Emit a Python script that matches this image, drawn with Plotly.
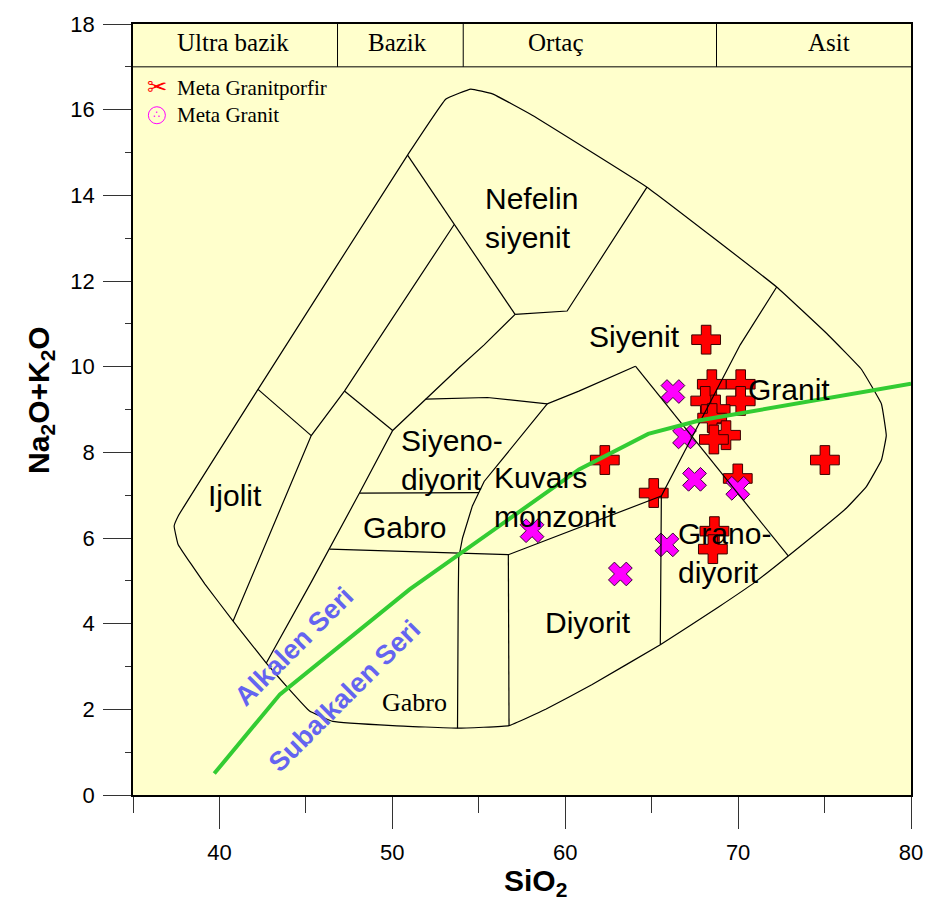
import plotly.graph_objects as go

# ---- Sample compositions (wt %) ----
granitporfir_sio2 = [68.15, 68.48, 70.15, 68.10, 70.15, 68.70, 68.50, 69.30, 68.60,
                     62.29, 65.12, 75.02, 69.98, 68.63, 68.54]
granitporfir_alk = [10.63, 9.59, 9.59, 9.20, 9.20, 9.00, 8.80, 8.40, 8.30,
                    7.82, 7.05, 7.82, 7.39, 6.16, 5.74]
granit_sio2 = [58.08, 63.19, 65.88, 66.23, 66.90, 67.48, 69.98]
granit_alk = [6.17, 5.16, 5.84, 9.42, 8.36, 7.37, 7.16]

# ---- Field boundaries of the plutonic TAS diagram ----
outer_x = [53.10, 54.54, 55.79, 58.09, 64.73, 72.23, 75.21, 77.13, 78.29, 78.57, 78.29, 77.42,
           76.27, 72.90, 70.98, 68.87, 65.50, 61.56, 58.87, 56.75, 53.77, 50.02, 46.56, 45.21,
           43.96, 42.71, 40.79, 39.15, 37.61, 37.38, 37.61, 42.23, 50.88, 53.10]
outer_y = [16.25, 16.48, 16.37, 15.87, 14.19, 11.86, 10.74, 9.94, 9.13, 8.39, 7.82, 7.20,
           6.70, 5.58, 4.97, 4.39, 3.51, 2.58, 2.00, 1.62, 1.56, 1.62, 1.72, 1.96,
           2.50, 3.08, 4.06, 4.93, 5.85, 6.28, 6.51, 9.47, 14.94, 16.25]

inner_lines = [
    # nefelin siyenit
    ([50.88, 53.58, 57.10], [14.94, 13.32, 11.22]),
    ([57.10, 60.11, 64.73], [11.22, 11.30, 14.19]),
    # foid boundaries on the alkaline side
    ([53.58, 47.23, 45.31, 41.75, 40.79], [13.32, 9.43, 8.39, 4.97, 4.06]),
    ([42.23, 45.31], [9.47, 8.39]),
    ([47.23, 50.02], [9.43, 8.51]),
    ([57.10, 55.31, 53.87, 50.02, 48.10, 46.37, 45.31, 42.71], [11.22, 10.51, 9.98, 8.51, 7.05, 5.74, 4.97, 3.08]),
    # siyenit / granit / grano-diyorit
    ([51.93, 55.50, 58.96, 60.79, 64.06], [9.24, 9.28, 9.13, 9.43, 10.01]),
    ([64.06, 72.90], [10.01, 5.58]),
    ([72.23, 70.12, 65.56, 65.50], [11.86, 10.51, 6.98, 3.51]),
    # siyeno-diyorit, kuvars monzonit, gabro, diyorit
    ([58.96, 55.98, 55.31, 54.63, 54.06, 53.84, 53.81, 53.77], [9.13, 7.66, 7.32, 6.75, 6.00, 5.54, 4.51, 1.56]),
    ([48.10, 55.02], [7.05, 7.06]),
    ([46.37, 53.84, 56.71, 65.56], [5.74, 5.64, 5.61, 6.98]),
    ([56.71, 56.75], [5.61, 1.62]),
]

# Irvine & Baragar alkaline / subalkaline divide
alk_x = [39.7, 43.5, 51.0, 54.0, 60.8, 64.8, 67.8, 80.0]
alk_y = [0.50, 2.35, 4.80, 5.65, 7.60, 8.43, 8.75, 9.60]

# Silica classes band across the top
band_edges = [46.83, 54.10, 68.75]
band_names = ["Ultra bazik", "Bazik", "Ortaç", "Asit"]
band_pos = [40.77, 50.29, 59.46, 75.27]

field_names = ["Nefelin<br>siyenit", "Siyenit", "Granit", "Siyeno-<br>diyorit", "Kuvars<br>monzonit",
               "Ijolit", "Gabro", "Diyorit", "Grano-<br>diyorit"]
field_x = [55.25, 61.25, 70.48, 50.40, 55.77, 40.88, 50.69, 61.31, 66.38]
field_y = [13.47, 10.70, 9.47, 7.83, 6.95, 7.00, 6.24, 4.02, 5.66]
field_anchor = ["left", "left", "left", "left", "left", "center", "center", "center", "left"]

SANS = "Liberation Sans, Arial, sans-serif"
SERIF = "Liberation Serif, Times New Roman, serif"

fig = go.Figure()

# Samples
fig.add_trace(go.Scatter(
    x=granitporfir_sio2, y=granitporfir_alk, mode="markers", name="Meta Granitporfir",
    marker=dict(symbol="cross", size=24, color="#FF0000", line=dict(color="#3a0000", width=1)),
    showlegend=False))
fig.add_trace(go.Scatter(
    x=granit_sio2, y=granit_alk, mode="markers", name="Meta Granit",
    marker=dict(symbol="x", size=21, color="#FF00FF", line=dict(color="#3a003a", width=1)),
    showlegend=False))

# Field outlines
fig.add_trace(go.Scatter(x=outer_x, y=outer_y, mode="lines", line=dict(color="black", width=1.2),
                         line_shape="spline", line_smoothing=0.25,
                         hoverinfo="skip", showlegend=False))
for lx, ly in inner_lines:
    fig.add_trace(go.Scatter(x=lx, y=ly, mode="lines", line=dict(color="black", width=1.2),
                             hoverinfo="skip", showlegend=False))

# Alkaline / subalkaline line
fig.add_trace(go.Scatter(x=alk_x, y=alk_y, mode="lines", line=dict(color="#33CC33", width=4),
                         hoverinfo="skip", showlegend=False))

# Top band
shapes = [dict(type="line", xref="x", yref="y", x0=35, x1=80, y0=17, y1=17,
               line=dict(color="black", width=1))]
for e in band_edges:
    shapes.append(dict(type="line", xref="x", yref="y", x0=e, x1=e, y0=17, y1=18,
                       line=dict(color="black", width=1)))

annotations = []
for name, bx in zip(band_names, band_pos):
    annotations.append(dict(x=bx, y=17.56, xref="x", yref="y", text=name, showarrow=False,
                            font=dict(family=SERIF, size=25, color="black")))

for name, fx, fy, anc in zip(field_names, field_x, field_y, field_anchor):
    annotations.append(dict(x=fx, y=fy, xref="x", yref="y", text=name, showarrow=False,
                            xanchor=anc, align="left",
                            font=dict(family=SANS, size=30, color="black")))
annotations.append(dict(x=51.27, y=2.15, xref="x", yref="y", text="Gabro", showarrow=False,
                        font=dict(family=SERIF, size=26, color="black")))

# Series names along the divide
annotations.append(dict(x=44.35, y=3.47, xref="x", yref="y", text="<b>Alkalen Seri</b>",
                        showarrow=False, textangle=-45,
                        font=dict(family=SANS, size=27, color="#6464F0")))
annotations.append(dict(x=47.23, y=2.31, xref="x", yref="y", text="<b>Subalkalen Seri</b>",
                        showarrow=False, textangle=-45,
                        font=dict(family=SANS, size=27, color="#6464F0")))

# Legend
annotations.append(dict(x=36.38, y=16.52, xref="x", yref="y", text="✂", showarrow=False,
                        font=dict(family="DejaVu Sans", size=24, color="#FF0000")))
annotations.append(dict(x=37.42, y=16.5, xref="x", yref="y", text="Meta Granitporfir",
                        showarrow=False, xanchor="left",
                        font=dict(family=SERIF, size=21, color="black")))
annotations.append(dict(x=36.38, y=15.88, xref="x", yref="y", text="∴", showarrow=False,
                        font=dict(family="DejaVu Sans", size=11, color="#FF00FF")))
annotations.append(dict(x=37.42, y=15.87, xref="x", yref="y", text="Meta Granit",
                        showarrow=False, xanchor="left",
                        font=dict(family=SERIF, size=21, color="black")))
fig.add_trace(go.Scatter(x=[36.38], y=[15.87], mode="markers",
                         marker=dict(symbol="circle-open", size=17, color="#FF00FF", line=dict(width=1)),
                         hoverinfo="skip", showlegend=False))

# Axis titles
annotations.append(dict(x=58.3, y=-0.113, xref="x", yref="paper", yanchor="middle",
                        text="<b>SiO<sub>2</sub></b>", showarrow=False,
                        font=dict(family=SANS, size=30, color="black")))
annotations.append(dict(x=-0.119, y=0.513, xref="paper", yref="paper", xanchor="center",
                        yanchor="middle", text="<b>Na<sub>2</sub>O+K<sub>2</sub>O</b>",
                        showarrow=False, textangle=-90,
                        font=dict(family=SANS, size=30, color="black")))

fig.update_layout(
    width=935, height=905,
    margin=dict(l=133, r=22, t=16, b=110),
    paper_bgcolor="white", plot_bgcolor="#FFFFCC",
    shapes=shapes, annotations=annotations,
    xaxis=dict(range=[35, 80], tick0=40, dtick=10, ticks="outside", ticklen=32, tickcolor="#333",
               showgrid=False, zeroline=False, showline=True, linecolor="black", linewidth=1.5,
               mirror=True, ticklabelstandoff=5,
               tickfont=dict(family=SANS, size=22, color="black"),
               minor=dict(dtick=5, tick0=35, ticks="outside", ticklen=16, tickcolor="#333")),
    yaxis=dict(range=[0, 18], tick0=0, dtick=2, ticks="outside", ticklen=28, tickcolor="#333",
               showgrid=False, zeroline=False, showline=True, linecolor="black", linewidth=1.5,
               mirror=True, ticklabelstandoff=4, tickfont=dict(family=SANS, size=22, color="black"),
               minor=dict(dtick=1, ticks="outside", ticklen=6, tickcolor="#333")),
    yaxis2=dict(range=[0, 18], overlaying="y", side="right", tickvals=[1, 3, 5, 7, 9, 11, 13, 15, 17],
                ticks="inside", ticklen=8, tickcolor="#333", showticklabels=False,
                showgrid=False, zeroline=False, showline=False),
)

fig.write_html("out.html")
